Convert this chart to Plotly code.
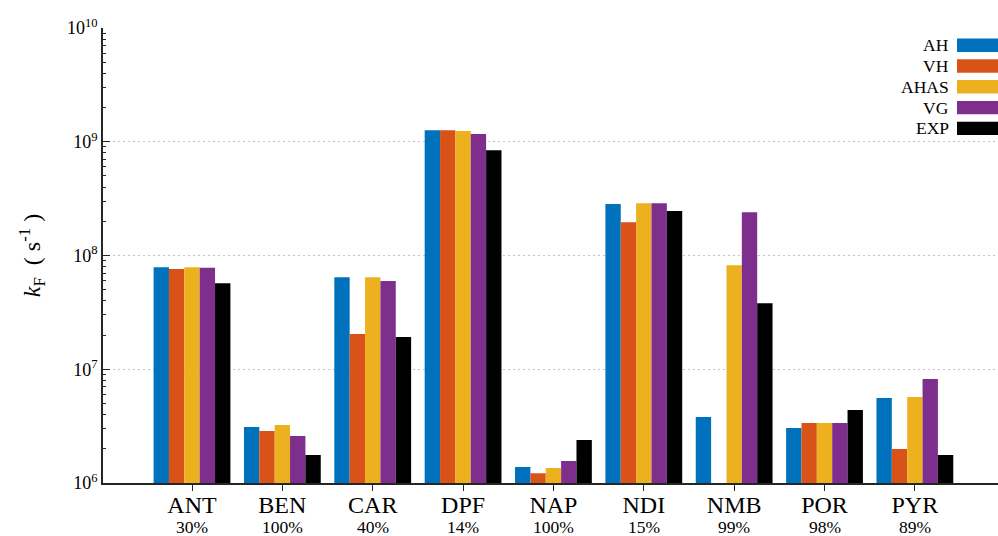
import plotly.graph_objects as go

# Fluorescence rate constants k_F (s^-1) per molecule and method
molecules = ["ANT", "BEN", "CAR", "DPF", "NAP", "NDI", "NMB", "POR", "PYR"]
percent_labels = ["30%", "100%", "40%", "14%", "100%", "15%", "99%", "98%", "89%"]

methods = ["AH", "VH", "AHAS", "VG", "EXP"]
colors = ["#0072BD", "#D95319", "#EDB120", "#7E2F8E", "#000000"]

kf_AH = [7.9e7, 3.1e6, 6.45e7, 1.26e9, 1.38e6, 2.83e8, 3.8e6, 3.04e6, 5.6e6]
kf_VH = [7.6e7, 2.86e6, 2.04e7, 1.26e9, 1.22e6, 1.96e8, None, 3.37e6, 1.99e6]
kf_AHAS = [7.9e7, 3.23e6, 6.45e7, 1.24e9, 1.355e6, 2.88e8, 8.2e7, 3.37e6, 5.7e6]
kf_VG = [7.8e7, 2.59e6, 5.96e7, 1.17e9, 1.56e6, 2.88e8, 2.4e8, 3.37e6, 8.2e6]
kf_EXP = [5.7e7, 1.76e6, 1.92e7, 8.4e8, 2.39e6, 2.46e8, 3.8e7, 4.38e6, 1.76e6]

series = [kf_AH, kf_VH, kf_AHAS, kf_VG, kf_EXP]

y_exponents = [6, 7, 8, 9, 10]

SERIF = "Liberation Serif"
AXIS_COLOR = "#262626"

# plot area in pixels
L, T, B = 103, 28, 53
W, H = 998, 536
PH = H - T - B
PW = W - L

fig = go.Figure()
for name, vals, col in zip(methods, series, colors):
    fig.add_trace(go.Bar(
        x=molecules, y=vals, name=name,
        marker=dict(color=col, line=dict(width=0)),
        showlegend=False,
    ))

fig.update_layout(
    width=W, height=H,
    margin=dict(l=L, r=0, t=T, b=B),
    paper_bgcolor="white", plot_bgcolor="white",
    barmode="group", bargap=0.15, bargroupgap=0,
    font=dict(family=SERIF, color="#000000"),
    xaxis=dict(
        type="category",
        range=[-0.985, 8.92],
        tickmode="array", tickvals=molecules, ticktext=molecules,
        tickfont=dict(family=SERIF, size=24, color="#000000"),
        ticks="outside", ticklen=6, tickwidth=1.3, tickcolor=AXIS_COLOR,
        ticklabelstandoff=-7,
        showline=True, linecolor=AXIS_COLOR, linewidth=1.5,
        showgrid=False, zeroline=False, automargin=False,
    ),
    yaxis=dict(
        type="log",
        range=[6, 10],
        tickmode="array",
        tickvals=[10 ** e for e in y_exponents],
        ticktext=[f"10<sup>{e}</sup>" for e in y_exponents],
        tickfont=dict(family=SERIF, size=18, color="#000000"),
        ticks="inside", ticklen=7, tickwidth=1.3, tickcolor=AXIS_COLOR,
        minor=dict(ticks="inside", ticklen=3.5, tickwidth=1, tickcolor=AXIS_COLOR,
                   dtick="D1", showgrid=False),
        showline=True, linecolor=AXIS_COLOR, linewidth=1.5,
        showgrid=True, gridcolor="#c4c4c4", gridwidth=1, griddash="2px,3px",
        zeroline=False, automargin=False,
        title=dict(text="<i>k</i><sub>F</sub>  ( s<sup>-1</sup> )",
                   font=dict(family=SERIF, size=24, color="#000000"),
                   standoff=20),
    ),
)

# percentage row beneath the molecule names
for m, p in zip(molecules, percent_labels):
    fig.add_annotation(x=m, xref="x", yref="paper", y=-(526.5 - (T + PH)) / PH,
                       text=p, showarrow=False, xanchor="center", yanchor="middle",
                       font=dict(family=SERIF, size=17.5, color="#000000"))

# Legend: label text to the left of a wide colour swatch, top-right corner
leg_top = 38.5
leg_step = 20.8
sw_h = 13.4
for i, (name, col) in enumerate(zip(methods, colors)):
    y0 = leg_top + i * leg_step
    fig.add_shape(type="rect", xref="paper", yref="paper",
                  x0=(957 - L) / PW, x1=1.0,
                  y0=1 - (y0 + sw_h - T) / PH, y1=1 - (y0 - T) / PH,
                  fillcolor=col, line=dict(width=0), layer="above")
    fig.add_annotation(xref="paper", yref="paper",
                       x=(951 - L) / PW, y=1 - (y0 + sw_h / 2 - T) / PH,
                       text=name, showarrow=False, xanchor="right", yanchor="middle",
                       font=dict(family=SERIF, size=17.5, color="#000000"))

fig.write_html("out.html")
